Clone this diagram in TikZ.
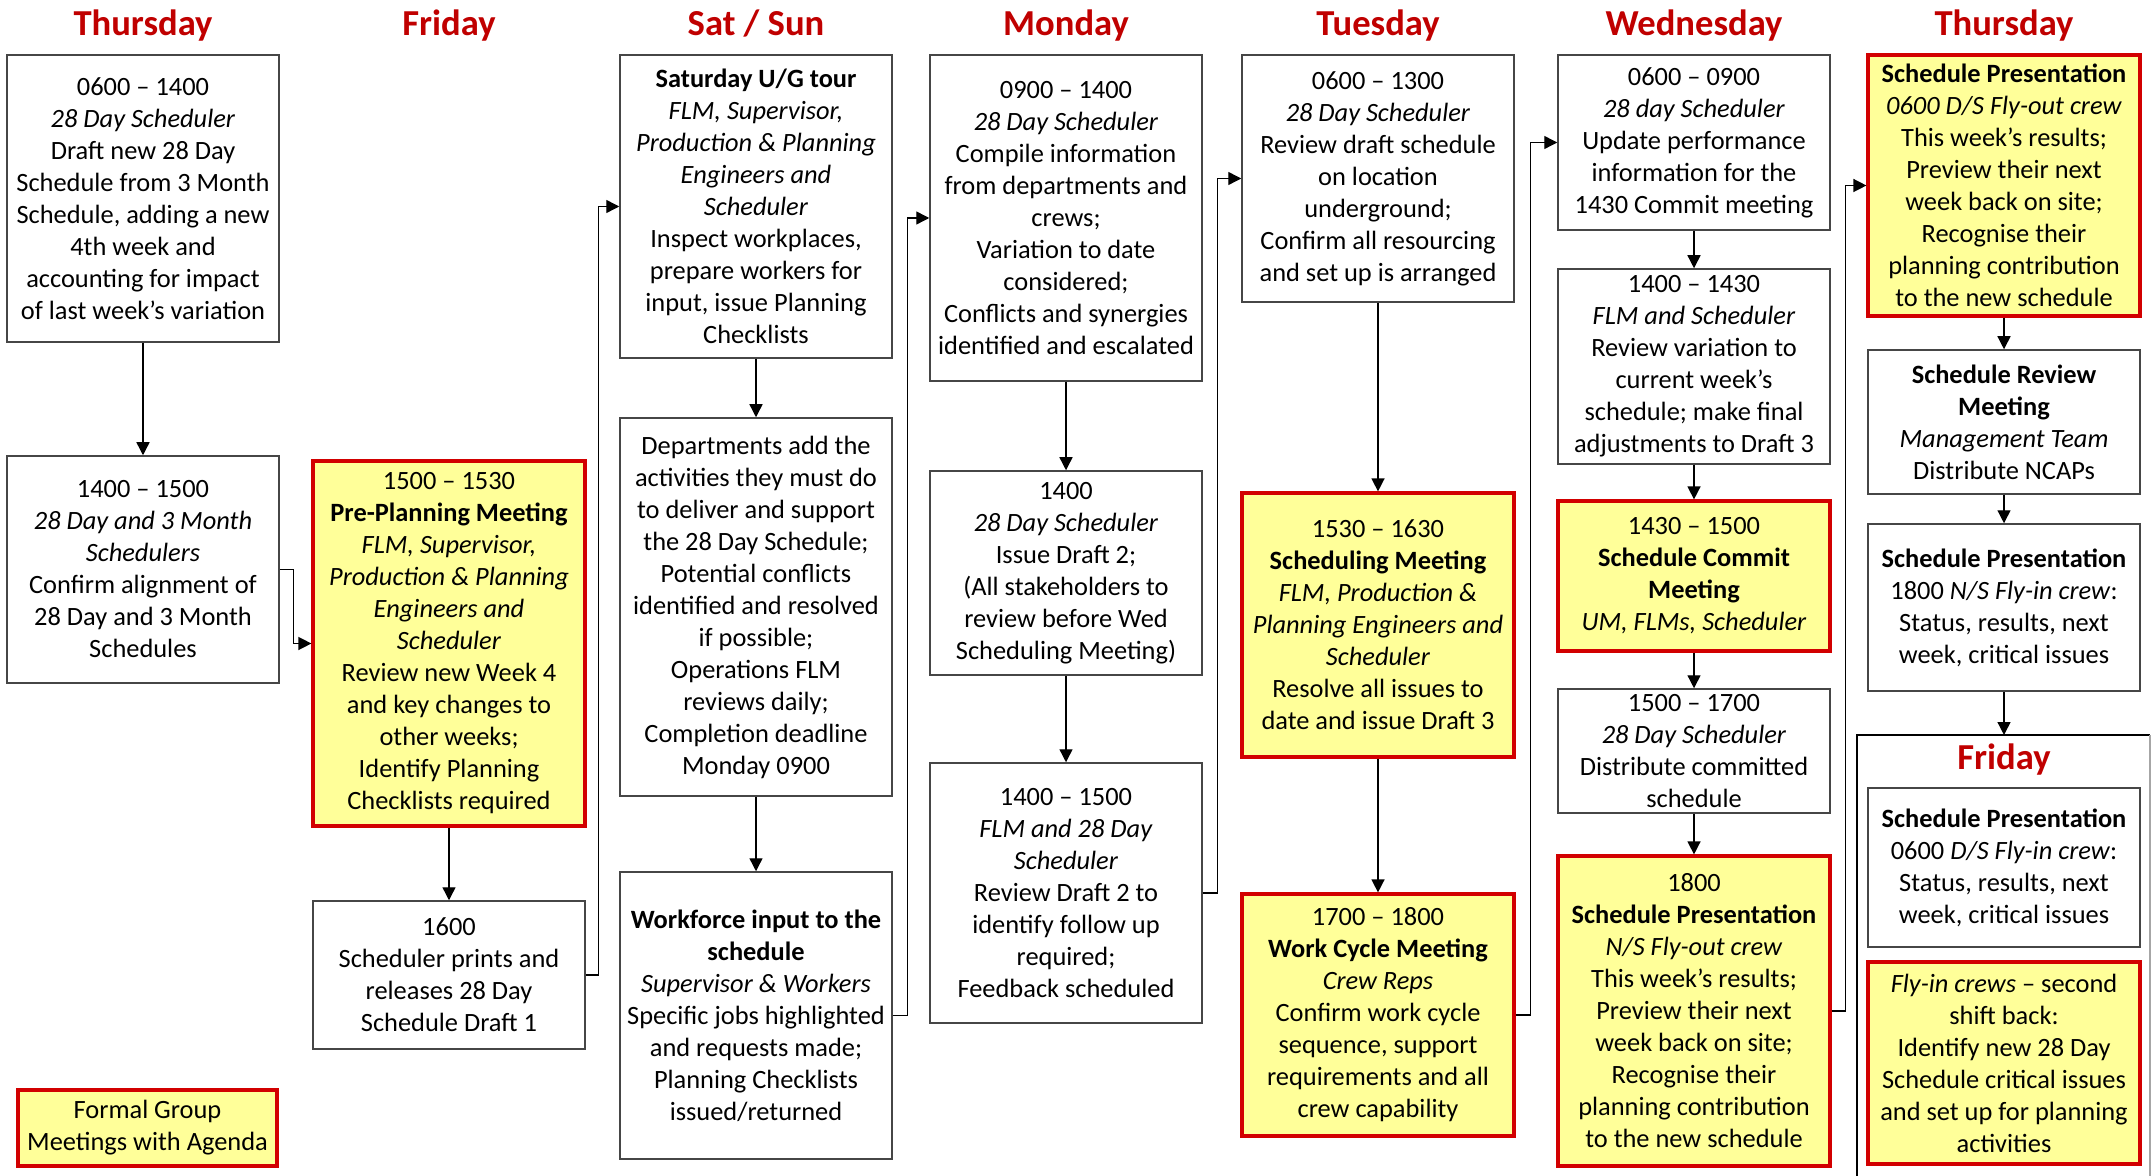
\documentclass[tikz,border=0pt]{standalone}
\usepackage{fontspec}
\setmainfont{Carlito}
\usetikzlibrary{arrows.meta}
\definecolor{hdrred}{RGB}{192,0,0}
\definecolor{meetred}{RGB}{210,0,0}
\definecolor{meetfill}{RGB}{255,255,153}
\definecolor{boxgray}{RGB}{70,70,70}
\tikzset{
  box/.style={draw=boxgray, line width=0.75pt, fill=white, minimum width=136pt, inner sep=0pt, align=center, font=\fontsize{13.2pt}{16pt}\selectfont},
  meet/.style={box, draw=meetred, line width=1.6pt, fill=meetfill},
  hdr/.style={text=hdrred, font=\fontsize{18.3pt}{22pt}\selectfont\bfseries, anchor=base, inner sep=0pt},
  arr/.style={draw=black, line width=0.7pt, -{Triangle[length=6.5pt,width=6.5pt]}}
}
\begin{document}
\begin{tikzpicture}[x=0.5pt,y=-0.5pt]
\useasboundingbox (0,0) rectangle (2152,1176);

% headers
\node[hdr] (h1) at (143,36) {Thursday};
\node[hdr] (h2) at (449,36) {Friday};
\node[hdr] (h3) at (756,36) {Sat / Sun};
\node[hdr] (h4) at (1066,36) {Monday};
\node[hdr] (h5) at (1378,36) {Tuesday};
\node[hdr] (h6) at (1694,36) {Wednesday};
\node[hdr] (h7) at (2004,36) {Thursday};

% Friday frame (right column)
\draw[draw=black, line width=0.6pt] (1857,1180) -- (1857,735) -- (2150,735);
\draw[draw=gray!70, line width=0.6pt] (2150,735) -- (2150,1180);
\coordinate (frametop) at (2004,735);
\node[hdr] (h8) at (2004,769) {Friday};

% Thursday
\node[box, minimum height=143.5pt] (thu1) at (143,198.5) {0600 – 1400\\\textit{28 Day Scheduler}\\Draft new 28 Day\\Schedule from 3 Month\\Schedule, adding a new\\4th week and\\accounting for impact\\of last week’s variation};
\node[box, minimum height=113.5pt] (thu2) at (143,569.5) {1400 – 1500\\\textit{28 Day and 3 Month}\\\textit{Schedulers}\\Confirm alignment of\\28 Day and 3 Month\\Schedules};
\node[meet, minimum width=129.5pt, minimum height=38pt] (legend) at (147.5,1128) {Formal Group\\Meetings with Agenda};

% Friday
\node[meet, minimum height=182.5pt] (fri1) at (449,643.5) {1500 – 1530\\\textbf{Pre-Planning Meeting}\\\textit{FLM, Supervisor,}\\\textit{Production \& Planning}\\\textit{Engineers and}\\\textit{Scheduler}\\Review new Week 4\\and key changes to\\other weeks;\\Identify Planning\\Checklists required};
\node[box, minimum height=74pt] (fri2) at (449,975) {1600\\Scheduler prints and\\releases 28 Day\\Schedule Draft 1};

% Sat / Sun
\node[box, minimum height=151.5pt] (sat1) at (756,206.5) {\textbf{Saturday U/G tour}\\\textit{FLM, Supervisor,}\\\textit{Production \& Planning}\\\textit{Engineers and}\\\textit{Scheduler}\\Inspect workplaces,\\prepare workers for\\input, issue Planning\\Checklists};
\node[box, minimum height=189pt] (sat2) at (756,607) {Departments add the\\activities they must do\\to deliver and support\\the 28 Day Schedule;\\Potential conflicts\\identified and resolved\\if possible;\\Operations FLM\\reviews daily;\\Completion deadline\\Monday 0900};
\node[box, minimum height=143.5pt] (sat3) at (756,1015.5) {\textbf{Workforce input to the}\\\textbf{schedule}\\\textit{Supervisor \& Workers}\\Specific jobs highlighted\\and requests made;\\Planning Checklists\\issued/returned};

% Monday
\node[box, minimum height=163pt] (mon1) at (1066,218) {0900 – 1400\\\textit{28 Day Scheduler}\\Compile information\\from departments and\\crews;\\Variation to date\\considered;\\Conflicts and synergies\\identified and escalated};
\node[box, minimum height=102pt] (mon2) at (1066,573) {1400\\\textit{28 Day Scheduler}\\Issue Draft 2;\\(All stakeholders to\\review before Wed\\Scheduling Meeting)};
\node[box, minimum height=130pt] (mon3) at (1066,893) {1400 – 1500\\\textit{FLM and 28 Day}\\\textit{Scheduler}\\Review Draft 2 to\\identify follow up\\required;\\Feedback scheduled};

% Tuesday
\node[box, minimum height=123.5pt] (tue1) at (1378,178.5) {0600 – 1300\\\textit{28 Day Scheduler}\\Review draft schedule\\on location\\underground;\\Confirm all resourcing\\and set up is arranged};
\node[meet, minimum height=132pt] (tue2) at (1378,625) {1530 – 1630\\\textbf{Scheduling Meeting}\\\textit{FLM, Production \&}\\\textit{Planning Engineers and}\\\textit{Scheduler}\\Resolve all issues to\\date and issue Draft 3};
\node[meet, minimum height=121pt] (tue3) at (1378,1015) {1700 – 1800\\\textbf{Work Cycle Meeting}\\\textit{Crew Reps}\\Confirm work cycle\\sequence, support\\requirements and all\\crew capability};

% Wednesday
\node[box, minimum height=87.5pt] (wed1) at (1694,142.5) {0600 – 0900\\\textit{28 day Scheduler}\\Update performance\\information for the\\1430 Commit meeting};
\node[box, minimum height=97.5pt] (wed2) at (1694,366.5) {1400 – 1430\\\textit{FLM and Scheduler}\\Review variation to\\current week’s\\schedule; make final\\adjustments to Draft 3};
\node[meet, minimum height=75pt] (wed3) at (1694,576) {1430 – 1500\\\textbf{Schedule Commit}\\\textbf{Meeting}\\\textit{UM, FLMs, Scheduler}};
\node[box, minimum height=62pt] (wed4) at (1694,751) {1500 – 1700\\\textit{28 Day Scheduler}\\Distribute committed\\schedule};
\node[meet, minimum height=155pt] (wed5) at (1694,1011) {1800\\\textbf{Schedule Presentation}\\\textit{N/S Fly-out crew}\\This week’s results;\\Preview their next\\week back on site;\\Recognise their\\planning contribution\\to the new schedule};

% Thursday (next week)
\node[meet, minimum height=130.5pt] (t1) at (2004,185.5) {\textbf{Schedule Presentation}\\\textit{0600 D/S Fly-out crew}\\This week’s results;\\Preview their next\\week back on site;\\Recognise their\\planning contribution\\to the new schedule};
\node[box, minimum height=72pt] (t2) at (2004,422) {\textbf{Schedule Review}\\\textbf{Meeting}\\\textit{Management Team}\\Distribute NCAPs};
\node[box, minimum height=83.5pt] (t3) at (2004,607.5) {\textbf{Schedule Presentation}\\1800 \textit{N/S Fly-in crew}:\\Status, results, next\\week, critical issues};
\node[box, minimum height=79.5pt] (t4) at (2004,867.5) {\textbf{Schedule Presentation}\\0600 \textit{D/S Fly-in crew}:\\Status, results, next\\week, critical issues};
\node[meet, minimum height=101pt] (t5) at (2004,1063) {\textit{Fly-in crews} – second\\shift back:\\Identify new 28 Day\\Schedule critical issues\\and set up for planning\\activities};

% vertical connectors
\draw[arr] (thu1.south) -- (thu2.north);
\draw[arr] (fri1.south) -- (fri2.north);
\draw[arr] (sat1.south) -- (sat2.north);
\draw[arr] (sat2.south) -- (sat3.north);
\draw[arr] (mon1.south) -- (mon2.north);
\draw[arr] (mon2.south) -- (mon3.north);
\draw[arr] (tue1.south) -- (tue2.north);
\draw[arr] (tue2.south) -- (tue3.north);
\draw[arr] (wed1.south) -- (wed2.north);
\draw[arr] (wed2.south) -- (wed3.north);
\draw[arr] (wed3.south) -- (wed4.north);
\draw[arr] (wed4.south) -- (wed5.north);
\draw[arr] (t1.south) -- (t2.north);
\draw[arr] (t2.south) -- (t3.north);
\draw[arr] (t3.south) -- (frametop);

% elbow connectors between days
\draw[arr] (thu2.east) -- ++(14,0) |- (fri1.west);
\draw[arr] (fri2.east) -- ++(13,0) |- (sat1.west);
\draw[arr] (sat3.east) -- ++(15,0) |- (mon1.west);
\draw[arr] (mon3.east) -- ++(15,0) |- (tue1.west);
\draw[arr] (tue3.east) -- ++(15,0) |- (wed1.west);
\draw[arr] (wed5.east) -- ++(14,0) |- (t1.west);
\end{tikzpicture}
\end{document}
